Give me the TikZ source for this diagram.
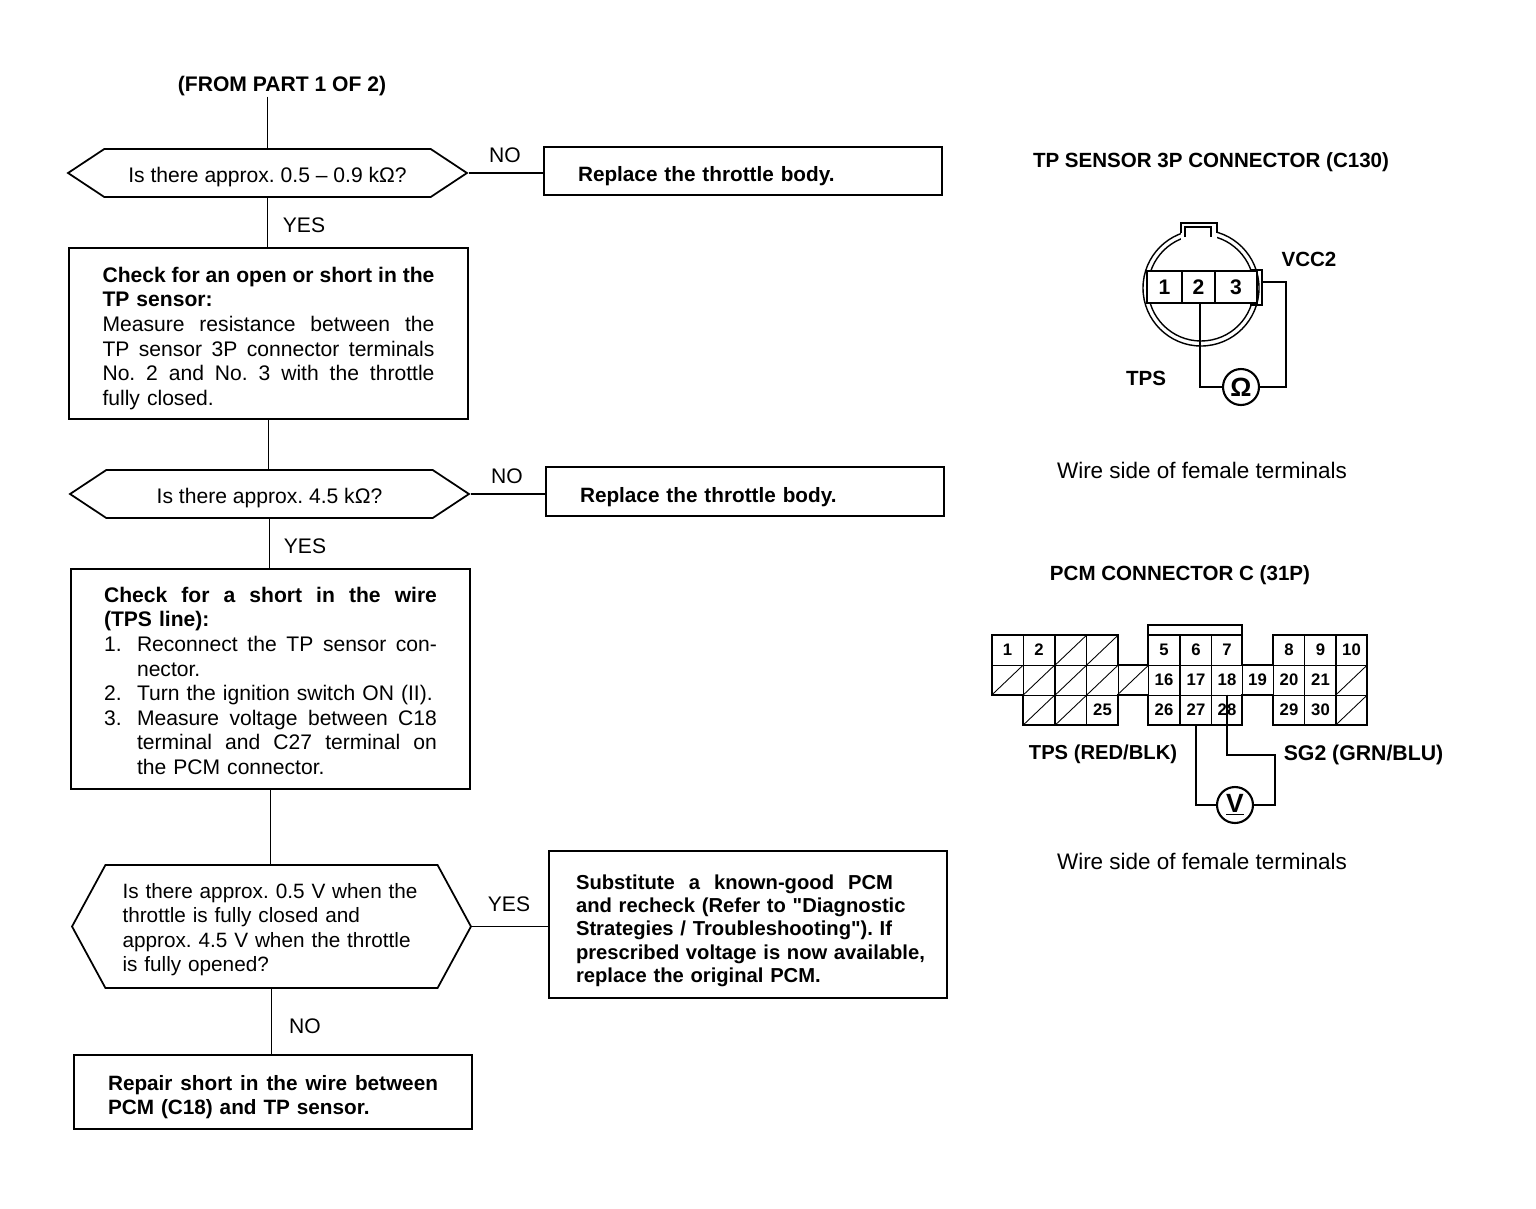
\documentclass[tikz,border=0pt]{standalone}
\usepackage{fontspec}
\setmainfont{Liberation Sans}[Ligatures=TeXOff]
\usetikzlibrary{shapes.symbols}
\newcommand{\fl}[2][6.64cm]{\leavevmode\hbox to #1{\spaceskip=0.278em plus 1fil minus 0.1em\relax #2}}
\newcommand{\li}[2]{\makebox[0.66cm][l]{#1}\fl[6.0cm]{#2}}
\newcommand{\dropby}[1]{\rule{0pt}{\dimexpr8.6pt+#1\relax}}
\begin{document}
\frenchspacing
\begin{tikzpicture}[
    x=0.02cm, y=-0.02cm,
    line width=1pt,
    txt/.style={font=\fontsize{12.8}{14}\selectfont, inner sep=0pt},
    lbl/.style={font=\fontsize{11.7}{14}\selectfont\bfseries, inner sep=0pt},
    flag/.style={font=\fontsize{12}{14}\selectfont, inner sep=1pt},
    stepbox/.style={rectangle, draw, minimum width=7.98cm, inner sep=0pt, align=left, font=\fontsize{12}{14}\selectfont},
    fixbox/.style={stepbox, minimum width=7.96cm, font=\fontsize{11.8}{14}\selectfont\bfseries},
    query/.style={signal, signal to=west and east, signal pointer angle=67, draw, minimum width=7.98cm, minimum height=0.96cm, inner sep=0pt, align=left, font=\fontsize{12}{14}\selectfont},
    cell/.style={rectangle, draw, line width=0.5pt, minimum width=0.63cm, minimum height=0.6cm, inner sep=0pt, font=\fontsize{9.5}{10}\selectfont\bfseries},
    hatch/.style={cell, path picture={\draw[line width=0.5pt] (path picture bounding box.south west) -- (path picture bounding box.north east);}},
    pin/.style={cell, fill=white, minimum height=0.64cm, line width=1pt, font=\fontsize{12}{12}\selectfont\bfseries},
    meter/.style={circle, draw, line width=1.2pt, minimum size=0.72cm, inner sep=0pt, font=\fontsize{15}{15}\selectfont\bfseries},
    wire/.style={line width=1pt}
]
    \useasboundingbox (0,0) rectangle (1536,1208);

    % Flow chart
    \node[lbl, font=\fontsize{12}{14}\selectfont\bfseries] (from) at (282,86) {(FROM PART 1 OF 2)};
    \node[query, text height=13pt] (q1) at (267.5,173) {Is there approx. 0.5 – 0.9 kΩ?};
    \node[fixbox, minimum height=0.96cm, text width=6.6cm] (r1) at (743,171) {\dropby{5.6pt}Replace the throttle body.};
    \node[stepbox, minimum height=3.42cm, text width=6.64cm] (c1) at (268.5,333.5) {\dropby{5.6pt}\textbf{\fl{Check for an open or short in the}}\\
        \textbf{TP sensor:}\\
        \fl{Measure resistance between the}\\
        \fl{TP sensor 3P connector terminals}\\
        \fl{No. 2 and No. 3 with the throttle}\\
        fully closed.};
    \node[query, text height=13pt] (q2) at (269.5,494) {Is there approx. 4.5 kΩ?};
    \node[fixbox, minimum height=0.98cm, text width=6.6cm] (r2) at (745,491.5) {\dropby{6.8pt}Replace the throttle body.};
    \node[stepbox, minimum height=4.4cm, text width=6.66cm] (c2) at (270.5,679) {\dropby{2.3pt}\textbf{\fl[6.66cm]{Check for a short in the wire}}\\
        \textbf{(TPS line):}\\
        \li{1.}{Reconnect the TP sensor con-}\\
        \hspace*{0.66cm}nector.\\
        \makebox[0.66cm][l]{2.}Turn the ignition switch ON (II).\\
        \li{3.}{Measure voltage between C18}\\
        \hspace*{0.66cm}\fl[6.0cm]{terminal and C27 terminal on}\\
        \hspace*{0.66cm}the PCM connector.};
    \node[query, minimum height=2.46cm, signal pointer angle=123, text width=5.96cm, font=\fontsize{11.8}{14}\selectfont] (q3) at (271.5,926.5) {\dropby{3.4pt}Is there approx. 0.5 V when the\\
        throttle is fully closed and\\
        approx. 4.5 V when the throttle\\
        is fully opened?};
    \node[fixbox, minimum height=2.94cm, text width=6.88cm, font=\fontsize{11.5}{13.3}\selectfont\bfseries] (r3) at (748,924.5) {\dropby{6.8pt}\fl[6.34cm]{Substitute a known-good PCM}\\
        and recheck (Refer to "Diagnostic\\
        Strategies / Troubleshooting"). If\\
        \fl[6.98cm]{prescribed voltage is now available,}\\
        replace the original PCM.};
    \node[fixbox, minimum height=1.48cm, text width=6.6cm] (r4) at (273,1092) {\dropby{5.6pt}\fl[6.6cm]{Repair short in the wire between}\\
        PCM (C18) and TP sensor.};

    % Flow lines
    \draw (from.south -| q1.north) -- (q1.north);
    \draw (q1.east) -- (q1.east -| r1.west);
    \draw (q1.south) -- (q1.south |- c1.north);
    \draw (c1.south) -- (c1.south |- q2.north);
    \draw (q2.east) -- (q2.east -| r2.west);
    \draw (q2.south) -- (q2.south |- c2.north);
    \draw (c2.south) -- (c2.south |- q3.north);
    \draw (q3.east) -- (q3.east -| r3.west);
    \draw (q3.south) -- (q3.south |- r4.north);

    % Branch labels
    \node[flag] (no1) at (505,155) {NO};
    \node[flag] (yes1) at (304,225) {YES};
    \node[flag] (no2) at (507,476) {NO};
    \node[flag] (yes2) at (305,546) {YES};
    \node[flag] (yes3) at (509,904) {YES};
    \node[flag] (no3) at (305,1026) {NO};

    % TP sensor connector
    \node[lbl] (tptitle) at (1211,162) {TP SENSOR 3P CONNECTOR (C130)};
    \draw[line width=0.8pt] (1201,288) circle (58);
    \draw[line width=0.8pt] (1201,288) circle (53);
    \fill[white] (1181,223) rectangle (1217,240);
    \draw (1181,233) -- (1181,223) -- (1217,223) -- (1217,233);
    \draw (1185,237) -- (1185,227) -- (1211,227) -- (1211,237);
    \node[pin, minimum width=0.7cm] (t1) at (1164.5,287) {1};
    \node[pin, minimum width=0.66cm] (t2) at (1198.5,287) {2};
    \node[pin, minimum width=0.84cm] (t3) at (1236,287) {3\hspace{3.4pt}};
    \draw (1250,270) -- (1262,270) -- (1262,305) -- (1250,305);
    \node[lbl] (vcc) at (1309,259) {VCC2};
    \node[lbl] (tps) at (1146,378) {TPS};
    \node[meter] (ohm) at (1241,387) {Ω};
    \coordinate (lead) at (1200,387);
    \coordinate (tail) at (1262,282);
    \draw[wire] (t2.south -| lead) -- (lead) -- (ohm.west);
    \draw[wire] (ohm.east) -- (1286,387) -- (1286,282) -- (tail);
    \node[txt] (side1) at (1202,470) {Wire side of female terminals};

    % PCM connector
    \node[lbl] (pcmtitle) at (1180,575) {PCM CONNECTOR C (31P)};
    \node[cell] (c1a) at (1007.5,650) {1};
    \node[cell] (c2a) at (1039,650) {2};
    \node[hatch] (c3a) at (1071,650) {};
    \node[hatch] (c4a) at (1102.5,650) {};
    \node[hatch] (x1) at (1007.5,680) {};
    \node[hatch] (x2) at (1039,680) {};
    \node[hatch] (x3) at (1071,680) {};
    \node[hatch] (x4) at (1102.5,680) {};
    \node[hatch, draw=none] (x5) at (1133,680) {};
    \node[hatch] (y1) at (1039,710) {};
    \node[hatch] (y2) at (1071,710) {};
    \node[cell] (c25) at (1102.5,710) {25};
    \node[cell] (c5) at (1164,650) {5};
    \node[cell] (c6) at (1196,650) {6};
    \node[cell] (c7) at (1227,650) {7};
    \node[cell] (c16) at (1164,680) {16};
    \node[cell] (c17) at (1196,680) {17};
    \node[cell] (c18) at (1227,680) {18};
    \node[cell, draw=none] (c19) at (1257.5,680) {19};
    \node[cell] (c26) at (1164,710) {26};
    \node[cell] (c27) at (1196,710) {27};
    \node[cell] (c28) at (1227,710) {28};
    \node[cell] (c8) at (1289,650) {8};
    \node[cell] (c9) at (1320.5,650) {9};
    \node[cell] (c10) at (1351.5,650) {10};
    \node[cell] (c20) at (1289,680) {20};
    \node[cell] (c21) at (1320.5,680) {21};
    \node[hatch] (z1) at (1351.5,680) {};
    \node[cell] (c29) at (1289,710) {29};
    \node[cell] (c30) at (1320.5,710) {30};
    \node[hatch] (z2) at (1351.5,710) {};

    % Thick outline
    \draw[line width=1.4pt] (992,635) -- (1118,635) -- (1118,665) -- (1148,665) -- (1148,625) -- (1242,625) -- (1242,665) -- (1273,665) -- (1273,635) -- (1367,635) -- (1367,725) -- (1273,725) -- (1273,695) -- (1242,695) -- (1242,725) -- (1148,725) -- (1148,695) -- (1118,695) -- (1118,725) -- (1023,725) -- (1023,695) -- (992,695) -- cycle;
    \draw[line width=1.4pt] (1148,635) -- (1242,635);

    % Meter leads
    \node[lbl, font=\fontsize{11.5}{14}\selectfont\bfseries] (tpsred) at (1103,754.5) {TPS (RED/BLK)};
    \node[lbl, font=\fontsize{12.1}{14}\selectfont\bfseries] (sgtwo) at (1363.5,754.5) {SG2 (GRN/BLU)};
    \node[meter] (volt) at (1235,805) {\underline{V}};
    \coordinate (bend) at (1275,755);
    \draw[wire] (c27.south) -- (c27.south |- volt.west) -- (volt.west);
    \draw[wire] (c28.north) -- (c28.north |- bend) -- (bend) -- (bend |- volt.east) -- (volt.east);
    \node[txt] (side2) at (1202,861) {Wire side of female terminals};
\end{tikzpicture}
\end{document}
